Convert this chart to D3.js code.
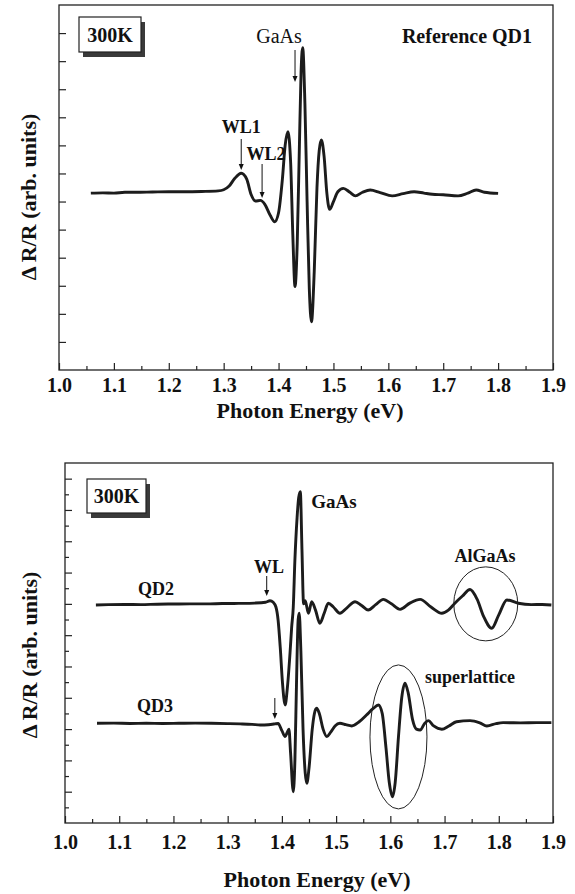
<!DOCTYPE html>
<html><head><meta charset="utf-8">
<script src="https://cdn.jsdelivr.net/npm/d3@7"></script>
<style>
body{margin:0;background:#fff}
text{font-family:"Liberation Serif","Times New Roman",serif;fill:#111}
</style>
</head><body>
<svg id="chart" width="575" height="894"></svg>
<script>
// ---------- data ----------
const xTickValues = [1.0,1.1,1.2,1.3,1.4,1.5,1.6,1.7,1.8,1.9];
const xTickLabels = ["1.0","1.1","1.2","1.3","1.4","1.5","1.6","1.7","1.8","1.9"];
const xMinorTicks = [1.05,1.15,1.25,1.35,1.45,1.55,1.65,1.75,1.85];

// Reference QD1 (top panel), arbitrary units
const qd1Energy = [1.058,1.08,1.10,1.12,1.14,1.17,1.20,1.23,1.26,1.29,1.30,1.31,1.32,1.332,1.342,1.35,1.358,1.367,1.375,1.385,1.393,1.40,1.407,1.412,1.417,1.422,1.426,1.430,1.434,1.438,1.441,1.444,1.448,1.452,1.456,1.460,1.465,1.470,1.474,1.478,1.483,1.488,1.493,1.500,1.508,1.518,1.530,1.540,1.553,1.567,1.585,1.607,1.627,1.647,1.665,1.68,1.70,1.727,1.745,1.76,1.775,1.80];
const qd1Signal = [6.30,6.31,6.30,6.33,6.33,6.34,6.35,6.35,6.36,6.38,6.42,6.55,6.82,7.01,6.80,6.25,6.02,6.04,5.90,5.50,5.28,5.60,6.80,8.00,8.49,7.40,4.80,2.97,4.50,8.00,10.60,11.48,9.50,6.00,2.90,1.72,3.50,6.50,7.80,8.19,7.60,6.30,5.72,6.00,6.35,6.47,6.33,6.20,6.33,6.41,6.32,6.20,6.28,6.35,6.30,6.26,6.24,6.20,6.30,6.41,6.33,6.29];

// QD2 (bottom panel, upper trace)
const qd2Energy = [1.057,1.08,1.11,1.14,1.17,1.20,1.23,1.26,1.29,1.32,1.35,1.37,1.378,1.384,1.389,1.393,1.397,1.401,1.406,1.410,1.415,1.418,1.421,1.424,1.428,1.431,1.434,1.437,1.440,1.443,1.449,1.455,1.462,1.470,1.478,1.4856,1.495,1.507,1.520,1.535,1.547,1.559,1.573,1.587,1.602,1.618,1.636,1.655,1.675,1.695,1.707,1.719,1.733,1.747,1.760,1.772,1.787,1.800,1.815,1.836,1.86,1.88,1.897];
const qd2Signal = [13.93,13.95,13.96,13.95,13.98,13.99,14.00,14.00,14.02,14.03,14.05,14.10,14.20,14.10,13.80,12.97,11.2,9.0,7.54,8.6,10.86,12.5,13.8,16.8,19.5,20.8,21.17,17.5,14.0,14.2,13.40,14.14,13.6,12.76,13.4,14.04,13.8,13.40,13.75,14.14,13.9,13.61,13.95,14.29,14.0,13.65,14.05,14.29,13.8,13.40,13.6,14.04,14.5,14.92,14.3,13.2,12.44,13.3,14.25,14.04,13.95,13.96,13.93];

// QD3 (bottom panel, lower trace)
const qd3Energy = [1.059,1.09,1.12,1.15,1.18,1.21,1.24,1.27,1.30,1.323,1.345,1.36,1.375,1.387,1.393,1.400,1.406,1.410,1.413,1.416,1.421,1.424,1.427,1.430,1.432,1.435,1.439,1.443,1.446,1.450,1.456,1.460,1.464,1.469,1.476,1.483,1.490,1.498,1.507,1.518,1.529,1.542,1.556,1.568,1.578,1.585,1.592,1.598,1.604,1.609,1.615,1.621,1.627,1.633,1.641,1.648,1.655,1.663,1.670,1.680,1.695,1.708,1.722,1.747,1.765,1.778,1.795,1.808,1.84,1.87,1.897];
const qd3Signal = [6.37,6.38,6.36,6.37,6.36,6.37,6.38,6.37,6.35,6.33,6.30,6.26,6.28,6.33,6.36,5.90,5.52,5.80,5.99,4.50,2.0,4.0,9.0,13.0,13.4,11.0,6.0,3.2,2.54,3.5,6.0,7.0,7.33,7.0,6.0,5.52,5.80,6.20,6.37,6.28,6.20,6.45,6.9,7.3,7.54,7.0,4.8,2.6,1.68,2.6,5.5,8.0,8.93,8.3,6.6,6.0,5.94,6.35,6.54,6.2,5.99,6.2,6.47,6.54,6.4,6.2,6.35,6.41,6.40,6.41,6.41];

// ---------- drawing ----------
const svg = d3.select("#chart");
svg.append("rect").attr("width",575).attr("height",894).attr("fill","#fff");
const FONT = '"Liberation Serif","Times New Roman",serif';

function makePanel(cfg){
  const x = d3.scaleLinear().domain([1.0,1.9]).range([cfg.left,cfg.right]);
  const y = d3.scaleLinear().domain([0,cfg.yMax]).range([cfg.bottom,cfg.top]);
  const g = svg.append("g");
  g.append("rect").attr("x",cfg.left).attr("y",cfg.top)
    .attr("width",cfg.right-cfg.left).attr("height",cfg.bottom-cfg.top)
    .attr("fill","none").attr("stroke","#222").attr("stroke-width",1.3);
  const xAxis = d3.axisBottom(x).tickValues(xTickValues)
    .tickFormat((d,i)=>xTickLabels[i]).tickSizeInner(-7).tickSizeOuter(0).tickPadding(cfg.tickPad);
  const xa = g.append("g").attr("transform",`translate(0,${cfg.bottom})`).call(xAxis);
  xa.select(".domain").remove();
  xa.selectAll("line").attr("stroke","#222").attr("stroke-width",1.2);
  xa.selectAll("text").attr("font-family",FONT).attr("font-weight","bold")
    .attr("font-size",cfg.tickFont).attr("fill","#111");
  const xm = g.append("g").attr("transform",`translate(0,${cfg.bottom})`)
    .call(d3.axisBottom(x).tickValues(xMinorTicks).tickFormat("").tickSizeInner(-4).tickSizeOuter(0));
  xm.select(".domain").remove();
  xm.selectAll("line").attr("stroke","#222").attr("stroke-width",1.2);
  const yTicks = d3.range(1,cfg.yMax);
  const ya = g.append("g").attr("transform",`translate(${cfg.left},0)`)
    .call(d3.axisLeft(y).tickValues(yTicks).tickFormat("").tickSizeOuter(0).tickSizeInner(0));
  ya.select(".domain").remove();
  ya.selectAll(".tick line").attr("x2",d=>cfg.yMajor(d)?7:4).attr("stroke","#222").attr("stroke-width",1.2);
  g.append("text").attr("x",cfg.xTitleX).attr("y",cfg.xTitleY).attr("text-anchor","middle")
    .attr("font-weight","bold").attr("font-size",22).text("Photon Energy (eV)");
  g.append("text").attr("transform",`translate(${cfg.yTitleX},${cfg.yTitleY}) rotate(-90)`)
    .attr("text-anchor","middle").attr("font-weight","bold").attr("font-size",22)
    .text("\u0394 R/R (arb. units)");
  return {x,y,g};
}

function drawCurve(p, xs, ys){
  const pts = xs.map((e,i)=>[e,ys[i]]);
  const line = d3.line().x(d=>p.x(d[0])).y(d=>p.y(d[1])).curve(d3.curveMonotoneX);
  p.g.append("path").datum(pts).attr("d",line).attr("fill","none")
    .attr("stroke","#1c1c1c").attr("stroke-width",2.9).attr("stroke-linejoin","round");
}

function tempBox(g,x0,y0,w,h){
  g.append("rect").attr("x",x0+4).attr("y",y0+5).attr("width",w).attr("height",h).attr("fill","#3a3a3a");
  g.append("rect").attr("x",x0).attr("y",y0).attr("width",w).attr("height",h)
    .attr("fill","#fff").attr("stroke","#222").attr("stroke-width",1.2);
  g.append("text").attr("x",x0+w/2).attr("y",y0+h/2+7).attr("text-anchor","middle")
    .attr("font-weight","bold").attr("font-size",20).text("300K");
}

function arrow(g,xp,y1,y2){
  g.append("line").attr("x1",xp).attr("x2",xp).attr("y1",y1).attr("y2",y2-5)
    .attr("stroke","#111").attr("stroke-width",1);
  g.append("path").attr("d",`M${xp-2.5},${y2-6}L${xp+2.5},${y2-6}L${xp},${y2}Z`).attr("fill","#111");
}

function label(g,xp,yp,txt,bold,size){
  g.append("text").attr("x",xp).attr("y",yp).attr("text-anchor","middle")
    .attr("font-weight",bold?"bold":"normal").attr("font-size",size).text(txt);
}

// top panel
const topPanel = makePanel({left:59,right:553,top:5,bottom:370,yMax:13,tickFont:20,tickPad:8,
  yMajor:()=>true, xTitleX:310,xTitleY:418,yTitleX:36,yTitleY:197});
drawCurve(topPanel, qd1Energy, qd1Signal);
tempBox(topPanel.g,79,17,62,35);
label(topPanel.g,279,43,"GaAs",false,20);
label(topPanel.g,467,43,"Reference QD1",true,20);
arrow(topPanel.g,topPanel.x(1.43),50,82);
label(topPanel.g,topPanel.x(1.332),133,"WL1",true,18);
arrow(topPanel.g,topPanel.x(1.332),139,170);
label(topPanel.g,topPanel.x(1.37)+4,160,"WL2",true,18);
arrow(topPanel.g,topPanel.x(1.37),164,198);

// bottom panel
const botPanel = makePanel({left:65,right:553,top:463,bottom:823,yMax:23,tickFont:20,tickPad:12,
  yMajor:d=>d%2===0, xTitleX:317,xTitleY:887,yTitleX:37,yTitleY:655});
drawCurve(botPanel, qd2Energy, qd2Signal);
drawCurve(botPanel, qd3Energy, qd3Signal);
tempBox(botPanel.g,87,479,59,34);
label(botPanel.g,334,508,"GaAs",true,19);
label(botPanel.g,269,573,"WL",true,18);
arrow(botPanel.g,botPanel.x(1.372),576,596);
label(botPanel.g,156,595,"QD2",true,18);
label(botPanel.g,485,562,"AlGaAs",true,18);
label(botPanel.g,155,712,"QD3",true,18);
arrow(botPanel.g,botPanel.x(1.387),698,719);
label(botPanel.g,470,683,"superlattice",true,18);
botPanel.g.append("ellipse").attr("cx",botPanel.x(1.776)).attr("cy",botPanel.y(14.0)).attr("rx",32).attr("ry",37)
  .attr("fill","none").attr("stroke","#222").attr("stroke-width",1);
botPanel.g.append("ellipse").attr("cx",botPanel.x(1.615)).attr("cy",botPanel.y(5.5)).attr("rx",28.5).attr("ry",72)
  .attr("fill","none").attr("stroke","#222").attr("stroke-width",1);
</script>
</body></html>
